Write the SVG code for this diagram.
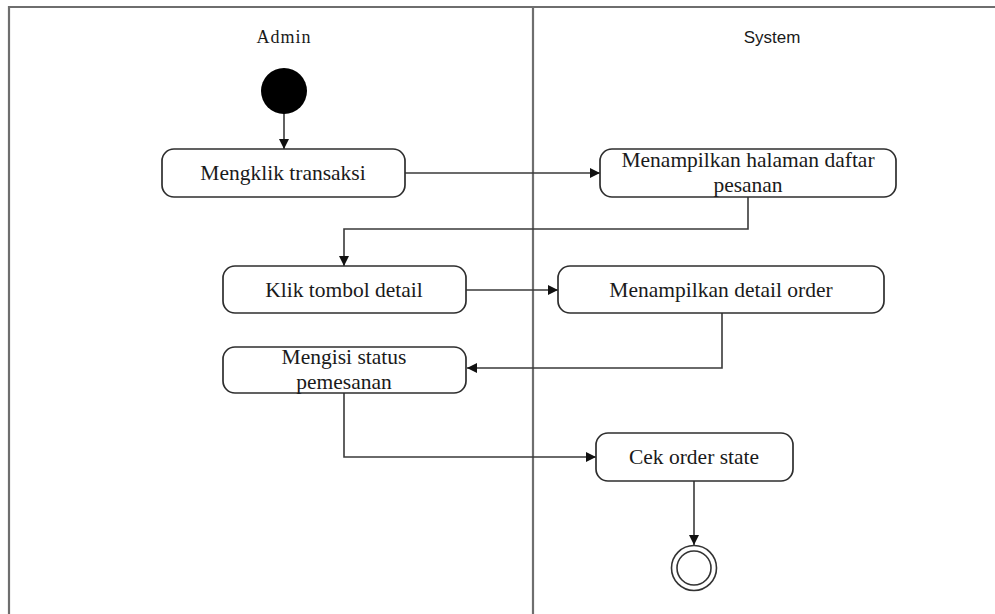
<svg xmlns="http://www.w3.org/2000/svg" width="995" height="614" viewBox="0 0 995 614">
  <style>
    .frame { stroke: #6e6e6e; stroke-width: 2.2; fill: none; }
    .box { fill: #ffffff; stroke: #2e2e2e; stroke-width: 1.7; }
    .flow { fill: none; stroke: #3a3a3a; stroke-width: 1.6; }
    .label { font-family: "Liberation Serif", "Times New Roman", serif; font-size: 21.5px; fill: #1a1a1a; text-anchor: middle; }
    .lane { font-family: "Liberation Serif", "Times New Roman", serif; font-size: 18px; fill: #1a1a1a; text-anchor: middle; }
    .lane-sans { font-family: "Liberation Sans Narrow", "Liberation Sans", Arial, sans-serif; font-size: 17px; fill: #1a1a1a; text-anchor: middle; }
  </style>
  <defs>
    <marker id="arrow" viewBox="0 0 10 10" refX="10" refY="5" markerWidth="10" markerHeight="10" markerUnits="userSpaceOnUse" orient="auto">
      <path d="M0,0 L10,5 L0,10 z" fill="#111111"/>
    </marker>
  </defs>

  <rect width="995" height="614" fill="#ffffff"/>

  <!-- swimlane frame -->
  <g id="lanes">
    <line class="frame" x1="9" y1="7" x2="995" y2="7"/>
    <line class="frame" x1="9" y1="6" x2="9" y2="614"/>
    <line class="frame" x1="533" y1="7" x2="533" y2="614"/>
    <text class="lane" x="284" y="43" letter-spacing="1">Admin</text>
    <text class="lane-sans" x="772" y="43">System</text>
  </g>

  <!-- connectors -->
  <g id="connectors">
    <line class="flow" x1="284" y1="113" x2="284" y2="149" marker-end="url(#arrow)"/>
    <line class="flow" x1="405" y1="173" x2="600" y2="173" marker-end="url(#arrow)"/>
    <polyline class="flow" points="748,197 748,229 344,229 344,266" marker-end="url(#arrow)"/>
    <line class="flow" x1="466" y1="290" x2="558" y2="290" marker-end="url(#arrow)"/>
    <polyline class="flow" points="722,313 722,368 467,368" marker-end="url(#arrow)"/>
    <polyline class="flow" points="344,393 344,457 596,457" marker-end="url(#arrow)"/>
    <line class="flow" x1="694" y1="481" x2="694" y2="545" marker-end="url(#arrow)"/>
  </g>

  <!-- initial node -->
  <g id="start">
    <circle cx="284" cy="91" r="23" fill="#000000"/>
  </g>

  <g id="mengklik-transaksi">
    <rect class="box" x="162" y="149" width="243" height="48" rx="12"/>
    <text class="label" x="283" y="180">Mengklik transaksi</text>
  </g>

  <g id="menampilkan-halaman">
    <rect class="box" x="600" y="149" width="296" height="48" rx="12"/>
    <text class="label" x="748" y="167">Menampilkan halaman daftar</text>
    <text class="label" x="748" y="192">pesanan</text>
  </g>

  <g id="klik-tombol-detail">
    <rect class="box" x="223" y="266" width="243" height="47" rx="12"/>
    <text class="label" x="344" y="297">Klik tombol detail</text>
  </g>

  <g id="menampilkan-detail-order">
    <rect class="box" x="558" y="266" width="326" height="47" rx="12"/>
    <text class="label" x="721" y="297">Menampilkan detail order</text>
  </g>

  <g id="mengisi-status">
    <rect class="box" x="223" y="347" width="243" height="46" rx="12"/>
    <text class="label" x="344" y="364">Mengisi status</text>
    <text class="label" x="344" y="389">pemesanan</text>
  </g>

  <g id="cek-order-state">
    <rect class="box" x="596" y="433" width="197" height="48" rx="12"/>
    <text class="label" x="694" y="464">Cek order state</text>
  </g>

  <!-- final node -->
  <g id="end">
    <circle cx="694" cy="568" r="22.5" fill="#ffffff" stroke="#333333" stroke-width="1.6"/>
    <circle cx="694" cy="568" r="17" fill="none" stroke="#333333" stroke-width="1.6"/>
  </g>
</svg>
